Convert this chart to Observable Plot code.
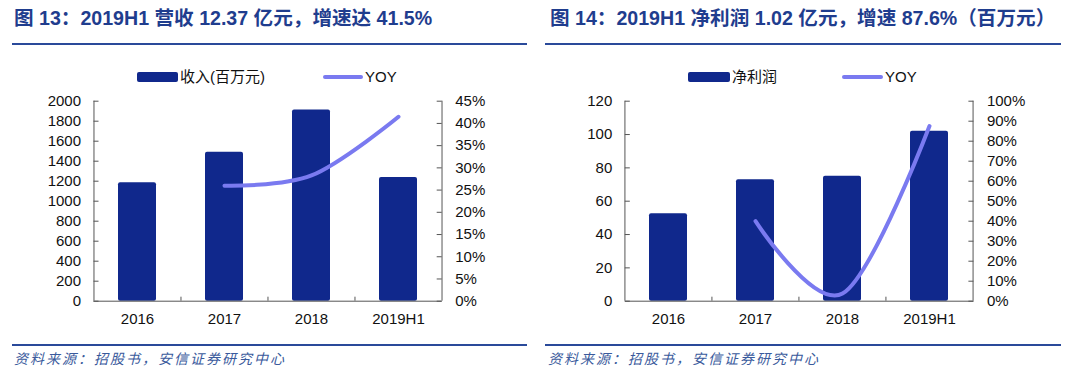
<!DOCTYPE html>
<html>
<head>
<meta charset="utf-8">
<script src="https://cdn.jsdelivr.net/npm/d3@7"></script>
<script src="https://cdn.jsdelivr.net/npm/@observablehq/plot@0.6"></script>
<style>
  html, body { margin: 0; padding: 0; background: #fff; }
  #root { position: relative; width: 1080px; height: 381px; overflow: hidden; background: #fff;
          font-family: "Liberation Sans", Arial, "Noto Sans CJK SC", sans-serif; }
  .title { position: absolute; top: 5px; font-size: 19.6px; font-weight: bold; color: #1F3D8E; line-height: 26px; white-space: nowrap;
           font-family: "Liberation Sans", Arial, "Noto Sans CJK SC", sans-serif; }
  .rule { position: absolute; height: 2px; background: #2A4A9A; }
  .source { position: absolute; top: 348px; font-size: 14px; font-style: italic; color: #3A5A9C; letter-spacing: 2px; white-space: nowrap;
            font-family: "Noto Sans CJK SC", sans-serif; }
  .chart { position: absolute; top: 90px; }
  .sw-bar { position: absolute; height: 10px; border-radius: 2px; background: #10288C; }
  .sw-line { position: absolute; height: 4px; border-radius: 2px; background: #7A7AF0; }
  .lg-text { position: absolute; font-size: 15px; line-height: 18px; color: #111; white-space: nowrap; }
</style>
</head>
<body>
<div id="root"></div>
<script>
// ---- data ----
const years = ["2016", "2017", "2018", "2019H1"];
const revenue = [1184, 1490, 1912, 1237];          // 收入(百万元)
const revenueYoy = [null, 26.0, 28.3, 41.5];        // %
const netProfit = [52.4, 72.8, 75.0, 102];          // 净利润(百万元)
const netProfitYoy = [null, 40.0, 3.8, 87.6];       // %
const revenueTicks = [0, 200, 400, 600, 800, 1000, 1200, 1400, 1600, 1800, 2000];
const revenuePctTicks = [0, 5, 10, 15, 20, 25, 30, 35, 40, 45];
const profitTicks = [0, 20, 40, 60, 80, 100, 120];
const profitPctTicks = [0, 10, 20, 30, 40, 50, 60, 70, 80, 90, 100];

const NAVY = "#10288C";
const LINE = "#7A7AF0";
const AX = "#555";

function chart({cats, vals, yoy, yticks, pticks, marginLeft, marginRight}) {
  const W = 540, H = 250, mt = 10.7, mb = 39.3;
  const ymax = yticks[yticks.length - 1];
  const pmax = pticks[pticks.length - 1];
  const plotW = W - marginLeft - marginRight;
  const plotH = H - mt - mb;
  const step = plotW / cats.length;
  const k = ymax / pmax;
  const bars = cats.map((c, i) => ({cat: c, v: vals[i]}));
  const line = cats.map((c, i) => ({cat: c, p: yoy[i]})).filter(d => d.p != null);
  const pt = pticks.map(p => p * k);
  return Plot.plot({
    width: W, height: H, marginTop: mt, marginBottom: mb, marginLeft, marginRight,
    style: {fontFamily: '"Liberation Sans", Arial, "Noto Sans CJK SC", sans-serif', fontSize: "15px", color: "#111", background: "transparent", overflow: "visible"},
    x: {domain: cats, paddingInner: 0.56, paddingOuter: 0.28},
    y: {domain: [0, ymax]},
    marks: [
      Plot.barY(bars, {x: "cat", y: "v", fill: NAVY, rx: 2}),
      Plot.line(line, {x: "cat", y: d => d.p * k, stroke: LINE, strokeWidth: 4, curve: "cardinal", strokeLinecap: "round"}),
      Plot.ruleY([0], {stroke: AX}),
      Plot.ruleX([cats[0]], {x: d => d, dx: -step / 2, stroke: AX}),
      Plot.ruleX([cats[cats.length - 1]], {x: d => d, dx: step / 2, stroke: AX}),
      Plot.ruleX(cats.slice(1), {x: d => d, dx: -step / 2, insetTop: plotH - 4, stroke: AX}),
      Plot.ruleY(yticks, {y: d => d, insetRight: plotW - 5, stroke: AX}),
      Plot.ruleY(pt, {y: d => d, insetLeft: plotW - 5, stroke: AX}),
      Plot.axisY(yticks, {anchor: "left", tickSize: 0, tickPadding: 13, label: null, tickFormat: d => String(d)}),
      Plot.axisY(pt, {anchor: "right", tickSize: 0, tickPadding: 13, label: null, tickFormat: d => Math.round(d / k) + "%"}),
      Plot.axisX({tickSize: 0, tickPadding: 12, label: null})
    ]
  });
}

const root = document.getElementById("root");
function add(html) { root.insertAdjacentHTML("beforeend", html); }

// titles & rules
add('<div class="title" style="left:14px">图 13：2019H1 营收 12.37 亿元，增速达 41.5%</div>');
add('<div class="title" style="left:550px">图 14：2019H1 净利润 1.02 亿元，增速 87.6%（百万元）</div>');
add('<div class="rule" style="left:12px;width:515px;top:43px"></div>');
add('<div class="rule" style="left:545px;width:516px;top:43px"></div>');
add('<div class="rule" style="left:12px;width:515px;top:344px"></div>');
add('<div class="rule" style="left:545px;width:516px;top:344px"></div>');
add('<div class="source" style="left:14px">资料来源：招股书，安信证券研究中心</div>');
add('<div class="source" style="left:548px">资料来源：招股书，安信证券研究中心</div>');

// legends
add('<div class="sw-bar" style="left:137px;top:72px;width:41px"></div>');
add('<div class="lg-text" style="left:180px;top:68px">收入(百万元)</div>');
add('<div class="sw-line" style="left:323px;top:75px;width:40px"></div>');
add('<div class="lg-text" style="left:365px;top:68px">YOY</div>');
add('<div class="sw-bar" style="left:688px;top:72px;width:42px"></div>');
add('<div class="lg-text" style="left:732px;top:68px">净利润</div>');
add('<div class="sw-line" style="left:842px;top:75px;width:41px"></div>');
add('<div class="lg-text" style="left:885px;top:68px">YOY</div>');

// charts
const c1 = chart({cats: years, vals: revenue, yoy: revenueYoy, yticks: revenueTicks, pticks: revenuePctTicks, marginLeft: 93.5, marginRight: 98.3});
c1.classList.add("chart"); c1.style.left = "0px";
root.appendChild(c1);
const c2 = chart({cats: years, vals: netProfit, yoy: netProfitYoy, yticks: profitTicks, pticks: profitPctTicks, marginLeft: 84.8, marginRight: 106.6});
c2.classList.add("chart"); c2.style.left = "540px";
root.appendChild(c2);
</script>
</body>
</html>
